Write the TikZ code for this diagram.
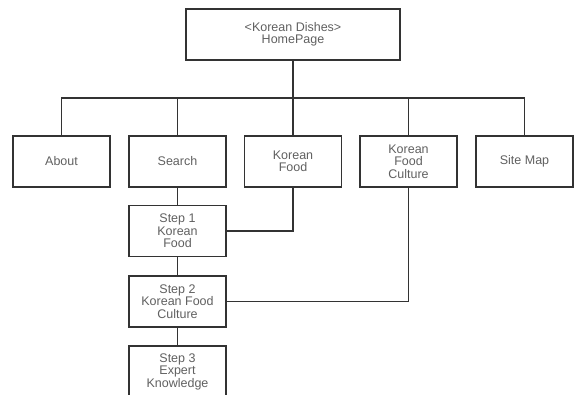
\documentclass[tikz,border=0pt]{standalone}
\usepackage{fontspec}
\setmainfont{Liberation Sans}
\usepackage{xcolor}
\usepackage{tikz}
\definecolor{linegray}{HTML}{333333}
\definecolor{textgray}{HTML}{606060}

\begin{document}
\begin{tikzpicture}[x=1pt,y=-1pt,
  page/.style={draw=linegray,line width=1.4pt,minimum width=97pt,minimum height=51pt,
    inner sep=0pt,align=center,text=textgray,font=\fontsize{12.5}{12.5}\selectfont},
  link/.style={draw=linegray,line width=1.4pt}]
\useasboundingbox (0,0) rectangle (575,395);
% top level
\node[page,minimum width=214pt] (home) at (293,34.5) {<Korean Dishes>\\HomePage};
% second level
\node[page] (about) at (61.5,161.5) {About};
\node[page] (search) at (177.5,161.5) {Search};
\node[page] (food) at (293,161.5) {Korean\\Food};
\node[page] (culture) at (408.5,161.5) {Korean\\Food\\Culture};
\node[page] (sitemap) at (524.5,161.5) {Site Map};
% search steps
\node[page] (stepone) at (177.5,231) {Step 1\\Korean\\Food};
\node[page] (steptwo) at (177.5,301.5) {Step 2\\Korean Food\\Culture};
\node[page] (stepthree) at (177.5,371.5) {Step 3\\Expert\\Knowledge};
\coordinate (bus) at (293,98);
\draw[link] (home.south) -- (bus);
\draw[link] (about.north) |- (bus) -| (sitemap.north);
\draw[link] (search.north) -- (search.north |- bus);
\draw[link] (food.north) -- (food.north |- bus);
\draw[link] (culture.north) -- (culture.north |- bus);
\draw[link] (search.south) -- (stepone.north);
\draw[link] (stepone.south) -- (steptwo.north);
\draw[link] (steptwo.south) -- (stepthree.north);
\draw[link] (food.south) |- (stepone.east);
\draw[link] (culture.south) |- (steptwo.east);
\end{tikzpicture}
\end{document}
